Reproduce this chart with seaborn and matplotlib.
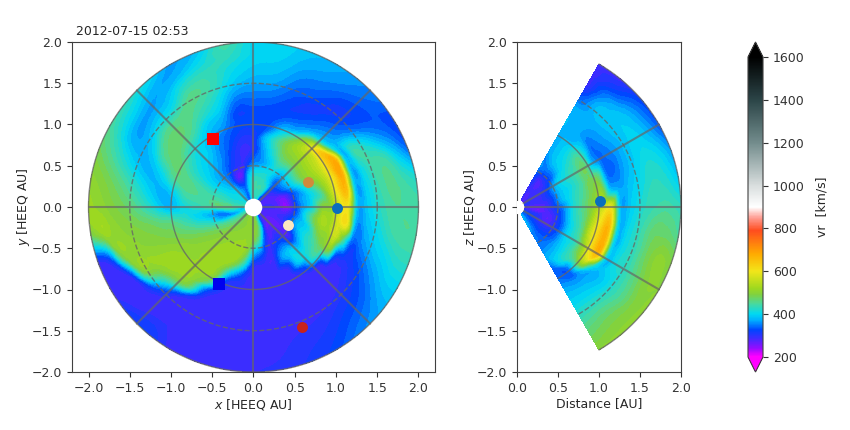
import numpy as np
import seaborn as sns
import matplotlib
matplotlib.use('Agg')
import matplotlib.pyplot as plt
import matplotlib.tri as mtri
from matplotlib.colors import LinearSegmentedColormap, Normalize
from matplotlib.cm import ScalarMappable

# radial nodes [AU] shared by both panels
radii = [.1, .25, .4, .55, .7, .85, .95, 1.05, 1.15, 1.25, 1.4, 1.55, 1.7, 1.85, 2.0]

# speed, one row per longitude (0, 10, ... 350 deg)
lon_deg = list(range(0, 360, 10))
speed_lon = [
    [290, 285, 245, 340, 400, 500, 510, 570, 590, 385, 395, 430, 450, 450, 445],
    [285, 280, 250, 350, 395, 450, 530, 610, 650, 385, 400, 440, 455, 440, 420],
    [280, 275, 270, 350, 420, 500, 550, 620, 670, 385, 410, 445, 440, 390, 345],
    [280, 280, 330, 400, 490, 530, 570, 640, 660, 385, 440, 405, 365, 340, 320],
    [285, 290, 345, 410, 490, 530, 560, 630, 420, 370, 350, 330, 325, 335, 345],
    [285, 330, 340, 395, 480, 520, 540, 500, 380, 350, 325, 315, 330, 350, 360],
    [320, 420, 385, 420, 470, 500, 470, 380, 345, 325, 315, 335, 350, 365, 375],
    [400, 440, 420, 385, 420, 445, 400, 360, 330, 320, 330, 345, 360, 375, 385],
    [420, 440, 420, 360, 365, 380, 335, 325, 320, 330, 350, 370, 385, 395, 400],
    [420, 440, 415, 345, 305, 310, 320, 325, 325, 335, 355, 375, 390, 400, 400],
    [410, 400, 365, 300, 290, 305, 320, 325, 320, 335, 365, 395, 410, 430, 445],
    [340, 340, 270, 300, 310, 330, 340, 360, 375, 395, 420, 440, 435, 410, 385],
    [330, 350, 275, 320, 345, 355, 365, 380, 395, 425, 450, 455, 420, 375, 365],
    [360, 370, 340, 350, 370, 390, 395, 415, 445, 460, 455, 405, 375, 370, 400],
    [390, 400, 375, 370, 390, 405, 420, 440, 465, 470, 450, 390, 365, 395, 430],
    [410, 410, 400, 395, 410, 430, 450, 470, 465, 450, 395, 370, 375, 415, 450],
    [420, 415, 425, 430, 445, 460, 460, 445, 410, 385, 375, 395, 425, 455, 480],
    [430, 430, 445, 450, 450, 440, 405, 380, 375, 385, 415, 445, 470, 490, 505],
    [430, 450, 460, 440, 425, 410, 385, 375, 395, 420, 450, 475, 490, 505, 515],
    [370, 400, 350, 375, 400, 430, 445, 460, 465, 475, 485, 495, 505, 515, 480],
    [400, 360, 370, 420, 445, 465, 475, 485, 490, 495, 500, 505, 490, 320, 285],
    [430, 430, 450, 470, 485, 495, 505, 510, 515, 515, 510, 490, 295, 285, 285],
    [450, 460, 480, 495, 505, 510, 510, 515, 515, 505, 420, 320, 285, 290, 315],
    [470, 480, 500, 510, 515, 515, 515, 510, 500, 470, 300, 285, 285, 305, 320],
    [490, 495, 505, 515, 515, 510, 500, 450, 340, 300, 285, 285, 285, 285, 290],
    [500, 500, 510, 515, 510, 400, 320, 300, 285, 285, 285, 285, 285, 285, 285],
    [510, 500, 510, 500, 430, 320, 300, 285, 285, 285, 285, 285, 285, 285, 285],
    [490, 500, 490, 390, 305, 285, 285, 285, 285, 285, 285, 285, 285, 290, 295],
    [470, 480, 440, 345, 295, 285, 285, 285, 285, 285, 285, 285, 290, 295, 300],
    [400, 400, 320, 290, 285, 285, 285, 285, 285, 285, 285, 290, 300, 305, 310],
    [300, 285, 275, 320, 365, 300, 290, 285, 285, 285, 285, 295, 305, 315, 325],
    [290, 270, 290, 330, 395, 400, 330, 290, 285, 285, 285, 305, 320, 335, 350],
    [285, 265, 270, 280, 370, 420, 430, 310, 285, 285, 300, 318, 335, 355, 370],
    [285, 270, 280, 340, 410, 450, 480, 490, 330, 310, 320, 345, 370, 390, 395],
    [285, 280, 300, 370, 405, 500, 510, 560, 460, 340, 355, 385, 405, 425, 430],
    [285, 280, 275, 350, 450, 530, 520, 580, 600, 370, 380, 410, 440, 450, 450],
]

# same idea for the meridional cut, latitude +60 down to -60
lat_deg = list(range(60, -70, -10))
speed_lat = [
    [285, 290, 310, 355, 355, 370, 370, 375, 380, 380, 370, 330, 290, 285, 285],
    [270, 285, 275, 340, 385, 395, 395, 375, 370, 370, 375, 385, 360, 320, 290],
    [270, 290, 290, 340, 400, 430, 450, 400, 345, 355, 375, 390, 385, 355, 320],
    [285, 295, 310, 385, 420, 450, 475, 380, 345, 345, 365, 390, 395, 370, 330],
    [300, 285, 315, 380, 410, 450, 480, 470, 350, 340, 370, 395, 415, 400, 365],
    [295, 285, 300, 375, 420, 460, 490, 510, 390, 370, 385, 410, 430, 420, 390],
    [265, 265, 295, 345, 420, 470, 510, 560, 590, 385, 395, 425, 440, 445, 430],
    [280, 260, 280, 330, 415, 470, 540, 610, 650, 395, 405, 440, 470, 470, 450],
    [300, 300, 270, 320, 400, 465, 560, 630, 660, 400, 410, 440, 480, 505, 490],
    [320, 310, 280, 320, 400, 445, 520, 620, 650, 395, 415, 435, 470, 500, 500],
    [335, 320, 310, 330, 390, 440, 480, 530, 400, 375, 395, 430, 460, 490, 505],
    [345, 340, 330, 345, 380, 410, 350, 340, 360, 380, 405, 440, 470, 490, 505],
    [370, 370, 350, 345, 370, 340, 335, 350, 370, 385, 405, 435, 460, 480, 500],
]

earth = [1.01, -.01]
venus = [.66, .30]
mars = [.586, -1.455]
mercury = [.416, -.218]
stereo_a = [-.49, .824]
stereo_b = [-.424, -.93]
earth_merid = [1.01, .07]

cbar_ticks = [200, 400, 600, 800, 1000, 1200, 1400, 1600]

sns.set_style('ticks', {'axes.edgecolor': '.25', 'xtick.color': '.2', 'ytick.color': '.2', 'text.color': '.15'})
plt.rcParams['font.family'] = ['DejaVu Sans']
plt.rcParams['font.size'] = 9
plt.rcParams['axes.labelsize'] = 9
plt.rcParams['xtick.labelsize'] = 9
plt.rcParams['ytick.labelsize'] = 9
plt.rcParams['xtick.major.size'] = 3.5
plt.rcParams['ytick.major.size'] = 3.5

vmin, vmax = 200, 1600
anchors = [(200, (1, 0, 1)), (240, (.58, .05, 1)), (285, (.25, .17, 1)), (325, (0, .27, 1)),
           (370, (0, .68, 1)), (400, (0, .85, .95)), (450, (.3, .85, .6)), (490, (.5, .82, .25)),
           (520, (.62, .85, .12)), (600, (.95, .9, .1)), (680, (1, .67, 0)), (790, (1, .3, .12)),
           (850, (1, .62, .58)), (900, (1, 1, 1)), (1000, (.85, .87, .87)), (1200, (.45, .55, .55)),
           (1400, (.17, .27, .28)), (1600, (0, 0, 0))]
vr_cmap = LinearSegmentedColormap.from_list('vr', [((v - vmin) / (vmax - vmin), c) for v, c in anchors], N=512)
vr_cmap.set_under((1, 0, 1))
vr_cmap.set_over((0, 0, 0))
norm = Normalize(vmin, vmax)
levels = np.arange(vmin, vmax + 1, 12)


def polar_field(ax, angles, speed, closed):
    # triangles run along the spiral, so the arms do not break up between rows
    n_ang, n_r = len(angles), len(radii)
    rr, tt = np.meshgrid(radii, np.radians(angles))
    tris = []
    for i in range(n_ang if closed else n_ang - 1):
        i2 = (i + 1) % n_ang
        for j in range(n_r - 1):
            a, b = i * n_r + j, i * n_r + j + 1
            c, d = i2 * n_r + j, i2 * n_r + j + 1
            tris += [[a, b, c], [b, d, c]]
    tri = mtri.Triangulation((rr * np.cos(tt)).ravel(), (rr * np.sin(tt)).ravel(), tris)
    z = np.array(speed, dtype=float).ravel()
    fine, zf = mtri.UniformTriRefiner(tri).refine_field(z, mtri.CubicTriInterpolator(tri, z, kind='geom'), subdiv=2)
    # the cubic dips below the quiet wind level, keep the outer field flat
    zf[(np.hypot(fine.x, fine.y) > .7) & (zf < 285)] = 285
    ax.tricontourf(fine, zf, levels=levels, cmap=vr_cmap, norm=norm, extend='both')


def draw_grid(ax, t0, t1, spokes):
    t = np.radians(np.linspace(t0, t1, 200))
    for r, ls in [(.5, '--'), (1.0, '-'), (1.5, '--'), (2.0, '-')]:
        ax.plot(r * np.cos(t), r * np.sin(t), color='.4', ls=ls, lw=1, alpha=.8)
    for a in np.radians(spokes):
        ax.plot([0, 2 * np.cos(a)], [0, 2 * np.sin(a)], color='.4', lw=1.5, alpha=.7)


def body(ax, xy, color, marker='o', size=60):
    sns.scatterplot(x=[xy[0]], y=[xy[1]], color=color, marker=marker, s=size, ax=ax, linewidth=0, zorder=5, legend=False)


fig = plt.figure(figsize=(8.5, 4.3), dpi=100)
ax1 = fig.add_axes([72 / 850, 58 / 430, 363 / 850, 330 / 430])
ax2 = fig.add_axes([517 / 850, 58 / 430, 164 / 850, 330 / 430])
cax = fig.add_axes([748 / 850, 58 / 430, 15 / 850, 330 / 430])

# equatorial panel
polar_field(ax1, lon_deg, speed_lon, True)
draw_grid(ax1, 0, 360, [0, 45, 90, 135, 180, 225, 270, 315])
body(ax1, earth, '#0a6ebd', size=62)
body(ax1, venus, '#d08a3c', size=62)
body(ax1, mars, '#c8231c', size=62)
body(ax1, mercury, '#fbe6c0', size=62)
body(ax1, stereo_a, '#ff0000', 's', 70)
body(ax1, stereo_b, '#0000ee', 's', 70)
body(ax1, [0, 0], 'white', size=160)
ax1.set_xlim(-2.2, 2.2)
ax1.set_ylim(-2, 2)
ax1.set_xticks(np.arange(-2, 2.1, .5))
ax1.set_yticks(np.arange(-2, 2.1, .5))
ax1.set_xlabel('$x$ [HEEQ AU]', labelpad=2)
ax1.set_ylabel('$y$ [HEEQ AU]', labelpad=0)
ax1.text(-2.15, 2.05, '2012-07-15 02:53', fontsize=9, va='bottom')

# meridional panel
polar_field(ax2, lat_deg, speed_lat, False)
draw_grid(ax2, -60, 60, [-30, 0, 30])
body(ax2, earth_merid, '#0a6ebd', size=62)
body(ax2, [0, 0], 'white', size=90)
ax2.set_xlim(0, 2)
ax2.set_ylim(-2, 2)
ax2.set_xticks([0, .5, 1, 1.5, 2])
ax2.set_yticks(np.arange(-2, 2.1, .5))
ax2.set_xlabel('Distance [AU]', labelpad=2)
ax2.set_ylabel('$z$ [HEEQ AU]', labelpad=0)

sm = ScalarMappable(norm=norm, cmap=vr_cmap)
cb = fig.colorbar(sm, cax=cax, extend='both', ticks=cbar_ticks)
cb.set_label('vr  [km/s]', labelpad=8)

fig.savefig('out.png', dpi=100)
